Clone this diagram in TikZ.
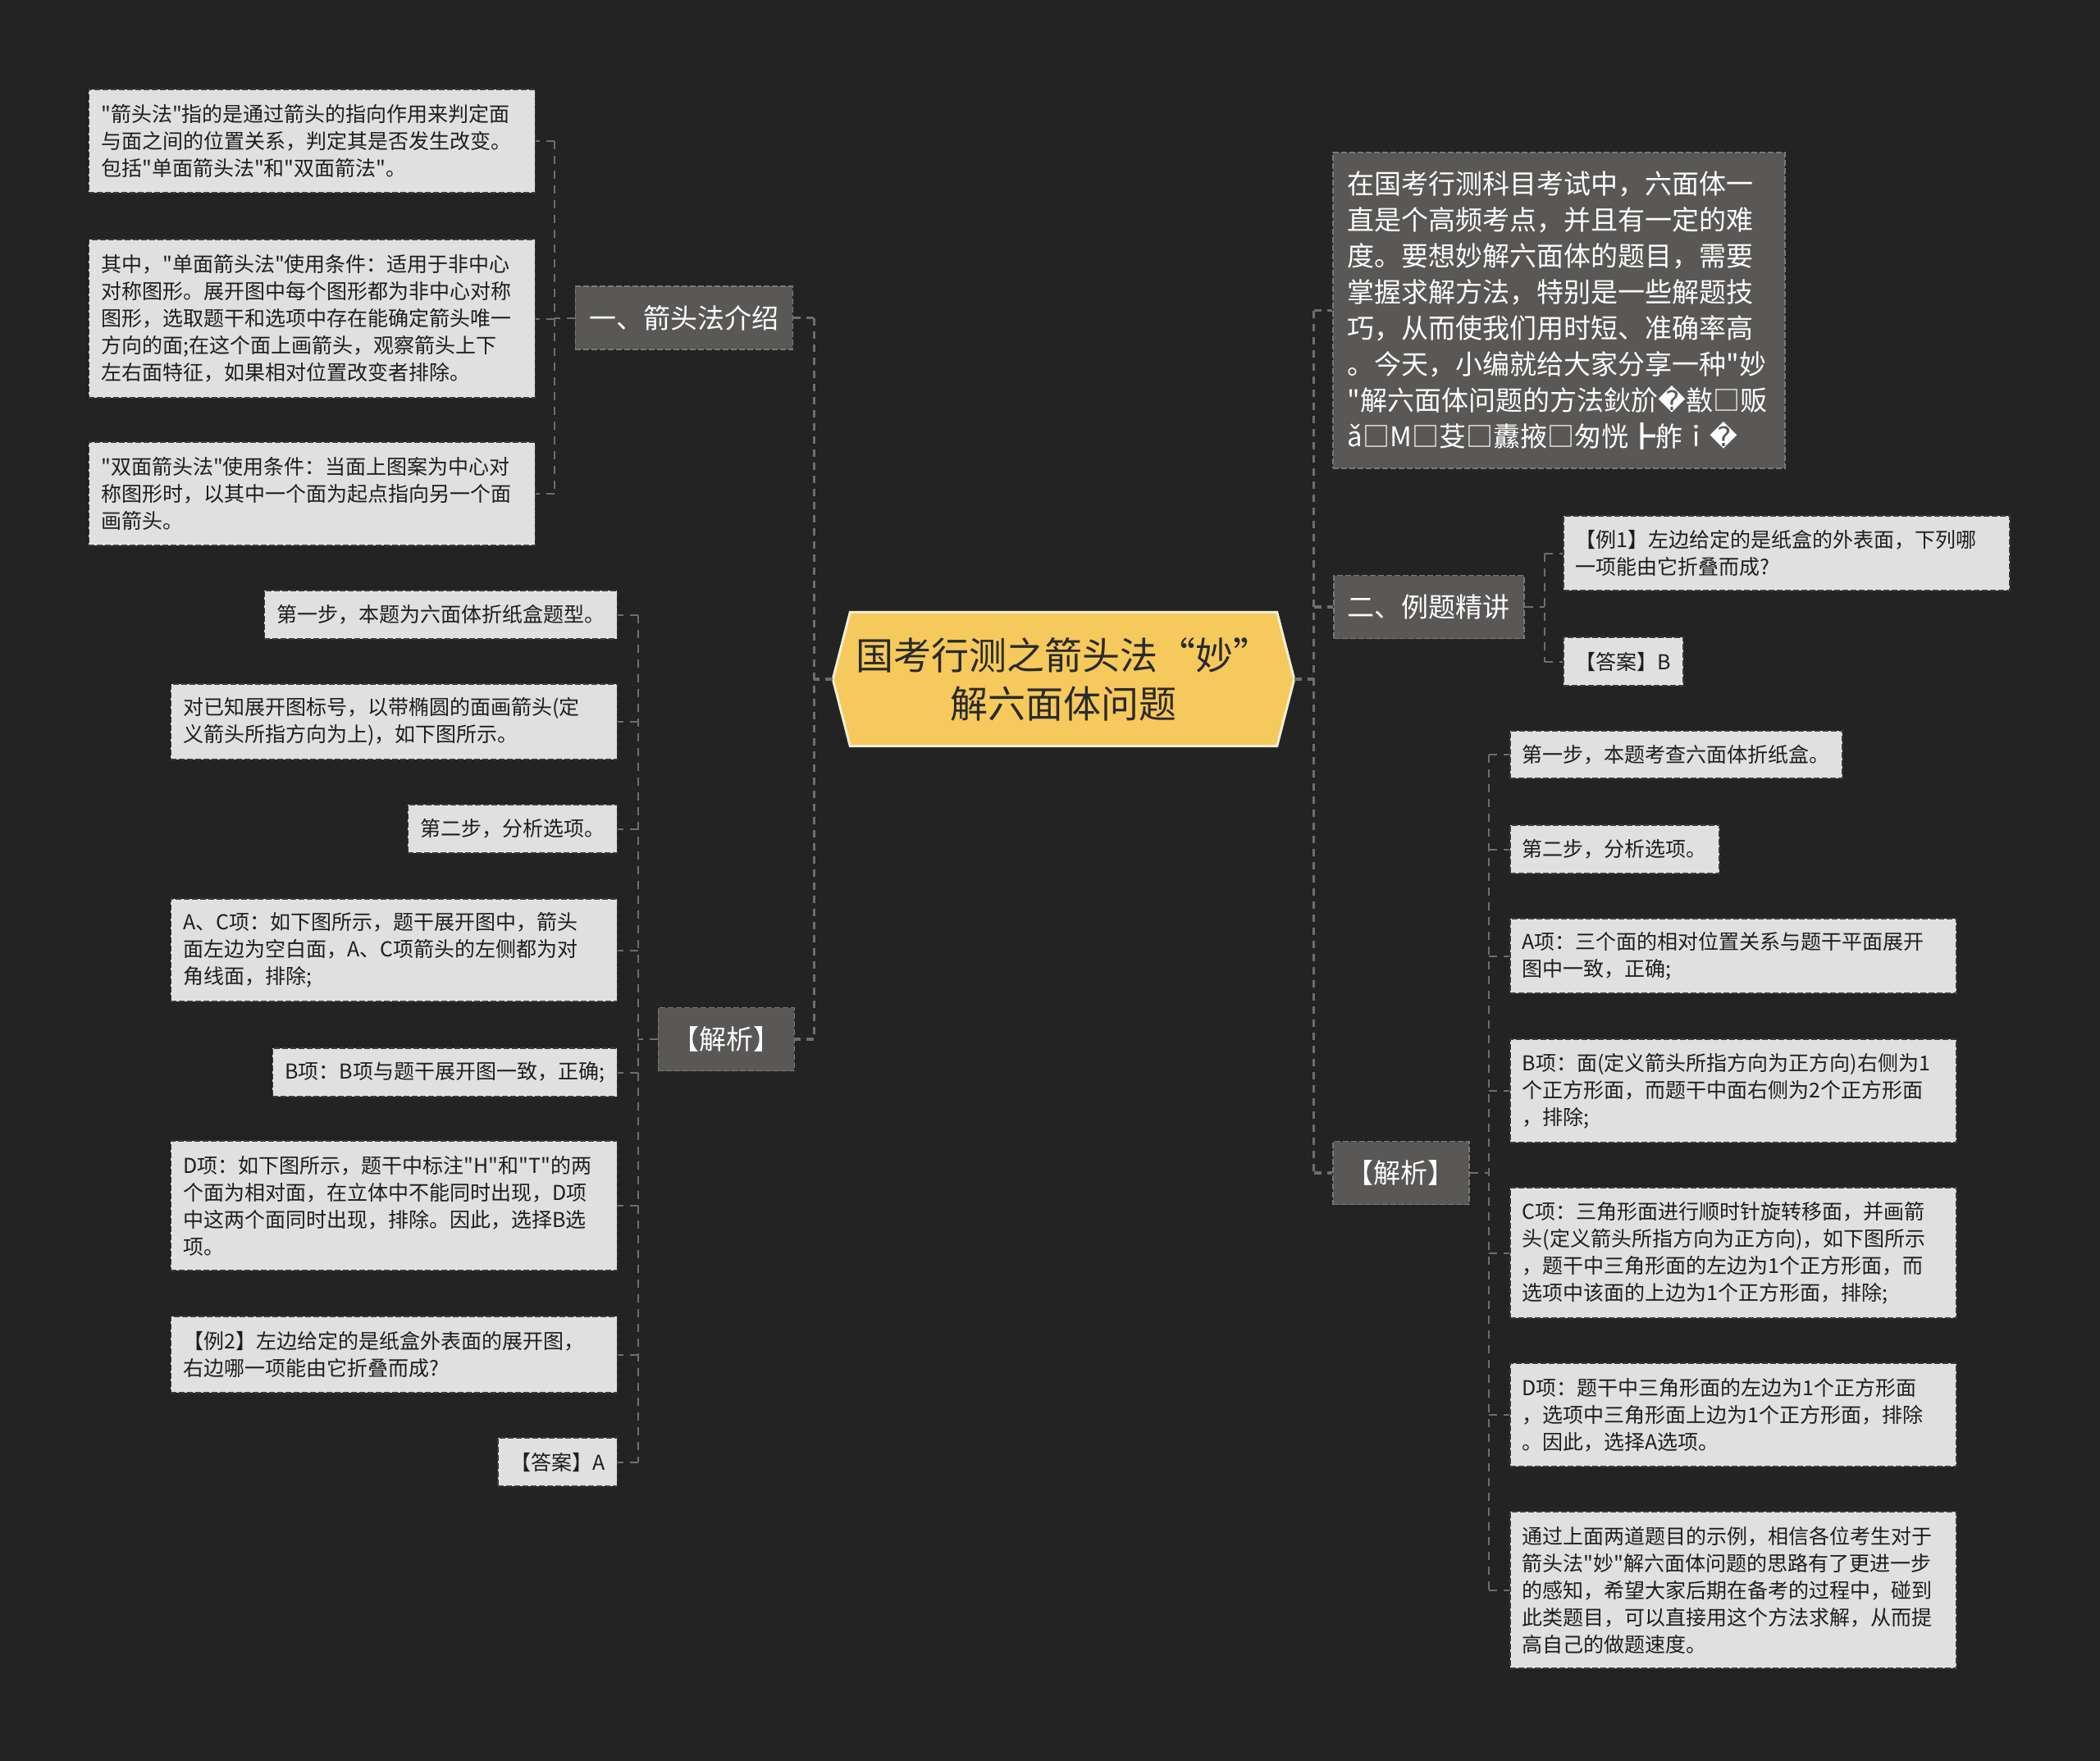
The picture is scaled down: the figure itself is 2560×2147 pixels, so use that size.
\documentclass[tikz,border=0pt]{standalone}
\usepackage{fontspec}
\setmainfont{Noto Sans CJK SC}[Ligatures=TeXOff]
\newfontfamily\symfont{DejaVu Sans}
\usetikzlibrary{positioning,backgrounds}
\definecolor{bgDark}{HTML}{232323}
\definecolor{leafGray}{HTML}{E0E0E0}
\definecolor{leafEdge}{HTML}{3A3A3A}
\definecolor{leafText}{HTML}{1E1E1E}
\definecolor{branchGray}{HTML}{5A5856}
\definecolor{branchEdge}{HTML}{7A7876}
\definecolor{rootYellow}{HTML}{F5C95C}
\definecolor{rootEdge}{HTML}{F2EFD2}
\definecolor{rootText}{HTML}{2A2A2A}
\definecolor{linkGray}{HTML}{6E6E6E}

\begin{document}
\begin{tikzpicture}[x=1pt,y=-1pt,
    leaf/.style={draw=leafEdge,fill=leafGray,line width=1.5pt,dash pattern=on 7pt off 3pt,
                 text=leafText,font=\fontsize{25}{33}\selectfont,align=left,
                 inner xsep=15pt,inner ysep=0pt},
    wideleaf/.style={leaf,text width=514pt},
    branch/.style={draw=branchEdge,fill=branchGray,line width=1.5pt,dash pattern=on 7pt off 3pt,
                   text=white,font=\fontsize{33}{40}\selectfont,inner xsep=17pt,minimum height=77pt},
    trunk/.style={draw=linkGray,line width=3.5pt,dash pattern=on 9pt off 7pt},
    twig/.style={draw=linkGray,line width=2pt,dash pattern=on 10pt off 8pt}
  ]
  \useasboundingbox (0,0) rectangle (2560,2147);

  % centre
  \node[text=rootText,font=\fontsize{46}{59}\selectfont,align=center,
        minimum width=562pt,minimum height=163pt] (root) at (1296.5,828)
        {国考行测之箭头法“妙”\\解六面体问题};

  % left: 一、箭头法介绍
  \node[branch,anchor=east] (intro1) at (967,387.5) {一、箭头法介绍};
  \node[wideleaf,anchor=east,minimum height=126pt] (a1) at (653,172) {
      "箭头法"指的是通过箭头的指向作用来判定面\\与面之间的位置关系，判定其是否发生改变。\\包括"单面箭头法"和"双面箭法"。};
  \node[wideleaf,anchor=east,minimum height=193pt] (a2) at (653,388.5) {
      其中，"单面箭头法"使用条件：适用于非中心\\对称图形。展开图中每个图形都为非中心对称\\图形，选取题干和选项中存在能确定箭头唯一\\方向的面;在这个面上画箭头，观察箭头上下\\左右面特征，如果相对位置改变者排除。};
  \node[wideleaf,anchor=east,minimum height=126pt] (a3) at (653,602) {
      "双面箭头法"使用条件：当面上图案为中心对\\称图形时，以其中一个面为起点指向另一个面\\画箭头。};

  % left: 【解析】
  \node[branch,anchor=east] (jxL) at (969,1267) {【解析】};
  \node[leaf,anchor=east,minimum height=59pt] (c1) at (753,749.5) {第一步，本题为六面体折纸盒题型。};
  \node[wideleaf,anchor=east,minimum height=92pt] (c2) at (753,880) {
      对已知展开图标号，以带椭圆的面画箭头(定\\义箭头所指方向为上)，如下图所示。};
  \node[leaf,anchor=east,minimum height=59pt] (c3) at (753,1010.5) {第二步，分析选项。};
  \node[wideleaf,anchor=east,minimum height=125pt] (c4) at (753,1158.5) {
      A、C项：如下图所示，题干展开图中，箭头\\面左边为空白面，A、C项箭头的左侧都为对\\角线面，排除;};
  \node[leaf,anchor=east,minimum height=59pt] (c5) at (753,1307.5) {B项：B项与题干展开图一致，正确;};
  \node[wideleaf,anchor=east,minimum height=158pt] (c6) at (753,1470) {
      D项：如下图所示，题干中标注"H"和"T"的两\\个面为相对面，在立体中不能同时出现，D项\\中这两个面同时出现，排除。因此，选择B选\\项。};
  \node[wideleaf,anchor=east,minimum height=93pt] (c7) at (753,1651.5) {
      【例2】左边给定的是纸盒外表面的展开图，\\右边哪一项能由它折叠而成?};
  \node[leaf,anchor=east,minimum height=59pt] (c8) at (753,1782.5) {【答案】A};

  % right: lead-in text
  \node[draw=branchEdge,fill=branchGray,line width=1.5pt,dash pattern=on 7pt off 3pt,
        text=white,font=\fontsize{33}{44}\selectfont,align=left,text width=515pt,
        inner xsep=18pt,inner ysep=0pt,minimum height=385pt,anchor=west] (lead) at (1624,378.5) {
      在国考行测科目考试中，六面体一\\直是个高频考点，并且有一定的难\\度。要想妙解六面体的题目，需要\\掌握求解方法，特别是一些解题技\\巧，从而使我们用时短、准确率高\\。今天，小编就给大家分享一种"妙\\"解六面体问题的方法鈥斺{\symfont �}敾□贩\\ǎ□M□芟□纛掖□匆恍┣舴ｉ{\symfont �}};

  % right: 二、例题精讲
  \node[branch,anchor=west] (intro2) at (1625,740) {二、例题精讲};
  \node[wideleaf,anchor=west,minimum height=91pt] (d1) at (1905,674.5) {
      【例1】左边给定的是纸盒的外表面，下列哪\\一项能由它折叠而成?};
  \node[leaf,anchor=west,minimum height=59pt] (d2) at (1905,806.5) {【答案】B};

  % right: 【解析】
  \node[branch,anchor=west] (jxR) at (1624,1430) {【解析】};
  \node[leaf,anchor=west,minimum height=58pt] (e1) at (1840,920) {第一步，本题考查六面体折纸盒。};
  \node[leaf,anchor=west,minimum height=59pt] (e2) at (1840,1035.5) {第二步，分析选项。};
  \node[wideleaf,anchor=west,minimum height=91pt] (e3) at (1840,1165.5) {
      A项：三个面的相对位置关系与题干平面展开\\图中一致，正确;};
  \node[wideleaf,anchor=west,minimum height=126pt] (e4) at (1840,1330) {
      B项：面(定义箭头所指方向为正方向)右侧为1\\个正方形面，而题干中面右侧为2个正方形面\\，排除;};
  \node[wideleaf,anchor=west,minimum height=159pt] (e5) at (1840,1527.5) {
      C项：三角形面进行顺时针旋转移面，并画箭\\头(定义箭头所指方向为正方向)，如下图所示\\，题干中三角形面的左边为1个正方形面，而\\选项中该面的上边为1个正方形面，排除;};
  \node[wideleaf,anchor=west,minimum height=126pt] (e6) at (1840,1725) {
      D项：题干中三角形面的左边为1个正方形面\\，选项中三角形面上边为1个正方形面，排除\\。因此，选择A选项。};
  \node[wideleaf,anchor=west,minimum height=191pt] (e7) at (1840,1938.5) {
      通过上面两道题目的示例，相信各位考生对于\\箭头法"妙"解六面体问题的思路有了更进一步\\的感知，希望大家后期在备考的过程中，碰到\\此类题目，可以直接用这个方法求解，从而提\\高自己的做题速度。};

  % backdrop and the hexagon behind the centre text
  \begin{scope}[on background layer]
    \fill[bgDark] (0,0) rectangle (2560,2147);
    \draw[draw=rootEdge,fill=rootYellow,line width=3pt,line join=miter]
      (root.west) -- ([xshift=21pt]root.north west) -- ([xshift=-21pt]root.north east)
      -- (root.east) -- ([xshift=-21pt]root.south east) -- ([xshift=21pt]root.south west) -- cycle;
  \end{scope}

  % connectors
  \path (root.west) ++(-23,0) coordinate (tL);
  \path (root.east) ++(24,0) coordinate (tR);
  \draw[trunk] (root.west) -- (tL);
  \draw[trunk] (tL |- intro1.east) -- (tL |- jxL.east);
  \foreach \n in {intro1,jxL} \draw[trunk] (tL |- \n.east) -- (\n.east);
  \draw[trunk] (root.east) -- (tR);
  \draw[trunk] (tR |- lead.west) -- (tR |- jxR.west);
  \foreach \n in {lead,intro2,jxR} \draw[trunk] (tR |- \n.west) -- (\n.west);

  \path (intro1.west) ++(-25,0) coordinate (s1);
  \draw[twig] (intro1.west) -- (s1);
  \draw[twig] (s1 |- a1.east) -- (s1 |- a3.east);
  \foreach \n in {a1,a2,a3} \draw[twig] (s1 |- \n.east) -- (\n.east);

  \path (jxL.west) ++(-24,0) coordinate (s2);
  \draw[twig] (jxL.west) -- (s2);
  \draw[twig] (s2 |- c1.east) -- (s2 |- c8.east);
  \foreach \n in {c1,c2,c3,c4,c5,c6,c7,c8} \draw[twig] (s2 |- \n.east) -- (\n.east);

  \path (intro2.east) ++(24,0) coordinate (s3);
  \draw[twig] (intro2.east) -- (s3);
  \draw[twig] (s3 |- d1.west) -- (s3 |- d2.west);
  \foreach \n in {d1,d2} \draw[twig] (s3 |- \n.west) -- (\n.west);

  \path (jxR.east) ++(23,0) coordinate (s4);
  \draw[twig] (jxR.east) -- (s4);
  \draw[twig] (s4 |- e1.west) -- (s4 |- e7.west);
  \foreach \n in {e1,e2,e3,e4,e5,e6,e7} \draw[twig] (s4 |- \n.west) -- (\n.west);
\end{tikzpicture}
\end{document}
